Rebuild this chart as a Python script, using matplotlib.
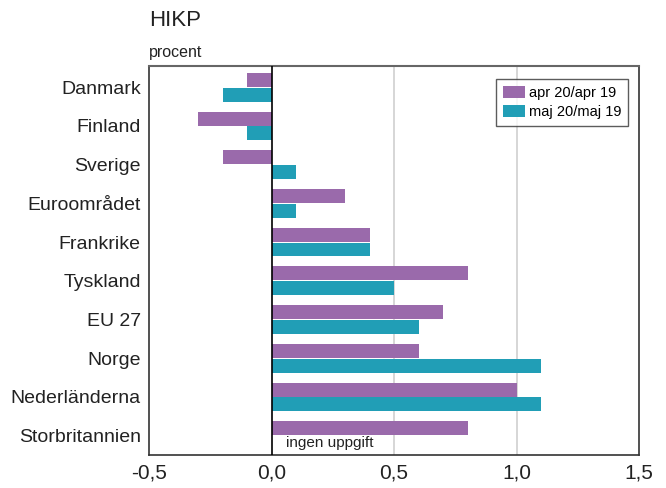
import numpy as np
import matplotlib.pyplot as plt

plt.rcParams['font.family'] = ['Liberation Sans', 'DejaVu Sans']

countries = ["Danmark", "Finland", "Sverige", "Euroområdet", "Frankrike",
             "Tyskland", "EU 27", "Norge", "Nederländerna", "Storbritannien"]
apr = [-0.1, -0.3, -0.2, 0.3, 0.4, 0.8, 0.7, 0.6, 1.0, 0.8]
maj = [-0.2, -0.1, 0.1, 0.1, 0.4, 0.5, 0.6, 1.1, 1.1, np.nan]
xticks = [-0.5, 0.0, 0.5, 1.0, 1.5]
xlabels = ["-0,5", "0,0", "0,5", "1,0", "1,5"]

fig = plt.figure(figsize=(6.66, 4.88), dpi=100)
ax = fig.add_axes([149 / 666, 1 - 455 / 488, 490 / 666, 389 / 488])

y = np.arange(len(countries))
h = 0.36
ax.barh(y - h / 2 - 0.01, apr, height=h, color="#9a6aab", label="apr 20/apr 19", zorder=3)
ax.barh(y + h / 2 + 0.01, maj, height=h, color="#219eb6", label="maj 20/maj 19", zorder=3)

ax.set_ylim(len(countries) - 0.5, -0.55)
ax.set_xlim(-0.5, 1.5)
ax.set_yticks(y)
ax.set_yticklabels(countries, fontsize=14, color="#222222")
ax.set_xticks(xticks)
ax.set_xticklabels(xlabels, fontsize=15, color="#222222")
ax.tick_params(length=0, pad=6)

for v in [0.5, 1.0]:
    ax.axvline(v, color="#d0d0d0", lw=1.2, zorder=1)
ax.axvline(0, color="black", lw=1.2, zorder=4)

for s in ["left", "bottom", "right"]:
    ax.spines[s].set_color("#333333")
    ax.spines[s].set_linewidth(1.2)
ax.spines["top"].set_color("#666666")
ax.spines["top"].set_linewidth(1.5)

ax.text(0.06, 9 + 0.2, "ingen uppgift", fontsize=11, va="center", color="#222222")

leg = ax.legend(loc="upper right", bbox_to_anchor=(0.993, 0.985), fontsize=10.5,
                frameon=True, fancybox=False, edgecolor="#333333",
                handlelength=1.5, handleheight=0.9, handletextpad=0.3,
                borderpad=0.45, labelspacing=0.35)
leg.get_frame().set_linewidth(1.0)

fig.text(149 / 666, 1 - 20 / 488, "HIKP", fontsize=16, va="center", color="#222222")
fig.text(149 / 666, 1 - 53 / 488, "procent", fontsize=11.5, va="center", color="#222222")

fig.savefig("out.png", dpi=100)
